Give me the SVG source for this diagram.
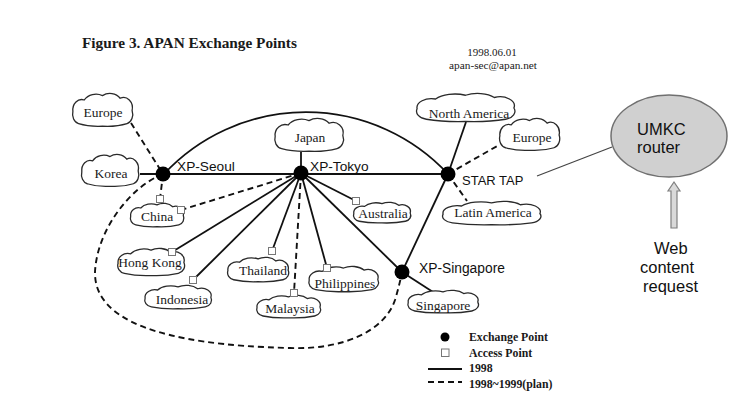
<svg xmlns="http://www.w3.org/2000/svg" xmlns:xlink="http://www.w3.org/1999/xlink" width="745" height="410" viewBox="0 0 745 410">
<style>
.serif{font-family:"Liberation Serif","Times New Roman",serif;fill:#1a1a1a}
.sans{font-family:"Liberation Sans",Arial,sans-serif;fill:#111}
.cl{font-family:"Liberation Serif","Times New Roman",serif;font-size:13.5px;fill:#1a1a1a;text-anchor:middle}
.solid{stroke:#111;stroke-width:1.8;fill:none}
.dash{stroke:#111;stroke-width:1.9;fill:none;stroke-dasharray:6 4}
.xp{fill:#000}
.ap{fill:#fff;stroke:#777;stroke-width:1}
.cloudp{fill:#fff;stroke:#2a2a2a;stroke-width:1.3}
</style>
<defs>
<symbol id="cloud" viewBox="0 0 100 40" preserveAspectRatio="none" overflow="visible">
<path class="cloudp" vector-effect="non-scaling-stroke" d="M 12 35 A 12 11 0 0 1 3 21 A 14 12 0 0 1 21 8 A 22 14 0 0 1 50 3 A 20 13 0 0 1 78 6 A 14 12 0 0 1 97 20 A 12 11 0 0 1 89 35 A 50 14 0 0 1 50 38 A 50 14 0 0 1 12 35 Z"/>
</symbol>
</defs>
<rect width="745" height="410" fill="#fff"/>

<g id="title">
<text class="serif" x="82" y="48" font-size="15.3" font-weight="bold">Figure 3. APAN Exchange Points</text>
<text class="serif" x="492" y="56" font-size="11" text-anchor="middle">1998.06.01</text>
<text class="serif" x="493" y="69" font-size="11.3" text-anchor="middle">apan-sec@apan.net</text>
</g>

<g id="connectors">
<path class="solid" d="M164 174 A194 194 0 0 1 448 174"/>
<line class="solid" x1="140" y1="174" x2="448" y2="174"/>
<line class="solid" x1="301" y1="152" x2="301" y2="173"/>
<line class="solid" x1="301" y1="173" x2="172" y2="252"/>
<line class="solid" x1="301" y1="173" x2="193" y2="280"/>
<line class="solid" x1="301" y1="173" x2="272" y2="251"/>
<line class="solid" x1="301" y1="173" x2="327" y2="268"/>
<line class="solid" x1="301" y1="173" x2="402" y2="272"/>
<line class="solid" x1="301" y1="173" x2="356" y2="201"/>
<line class="solid" x1="448" y1="174" x2="466" y2="122"/>
<line class="solid" x1="448" y1="174" x2="402" y2="272"/>
<line class="solid" x1="402" y1="272" x2="433" y2="292"/>
<line class="dash" x1="131" y1="123" x2="163" y2="174"/>
<line class="dash" x1="163" y1="174" x2="160" y2="199"/>
<line class="dash" x1="301" y1="173" x2="181" y2="210"/>
<line class="dash" x1="301" y1="173" x2="294" y2="293"/>
<line class="dash" x1="448" y1="174" x2="499" y2="145"/>
<line class="dash" x1="448" y1="174" x2="467" y2="201"/>
<path class="dash" d="M163 174 C130 187 97 230 95 272 C94 320 160 345 290 348 C345 350 385 330 395 300 C398 290 400 282 402 272"/>
<line x1="537" y1="176" x2="612" y2="147" stroke="#444" stroke-width="1.2"/>
</g>

<g id="cloud-europe-left"><use xlink:href="#cloud" href="#cloud" x="71" y="93" width="63" height="35"/><text class="cl" x="103" y="117">Europe</text></g>
<g id="cloud-korea"><use xlink:href="#cloud" href="#cloud" x="80" y="154" width="60" height="34"/><text class="cl" x="111" y="178">Korea</text></g>
<g id="cloud-japan"><use xlink:href="#cloud" href="#cloud" x="273" y="118" width="72" height="35"/><text class="cl" x="310" y="142">Japan</text></g>
<g id="cloud-north-america"><use xlink:href="#cloud" href="#cloud" x="414" y="93" width="103" height="30"/><text class="cl" x="469" y="118">North America</text></g>
<g id="cloud-europe-right"><use xlink:href="#cloud" href="#cloud" x="498" y="118" width="63" height="34"/><text class="cl" x="532" y="142">Europe</text></g>
<g id="cloud-latin-america"><use xlink:href="#cloud" href="#cloud" x="440" y="201" width="103" height="25"/><text class="cl" x="493" y="217">Latin America</text></g>
<g id="cloud-china"><use xlink:href="#cloud" href="#cloud" x="129" y="203" width="56" height="25"/><text class="cl" x="157" y="221">China</text></g>
<g id="cloud-australia"><use xlink:href="#cloud" href="#cloud" x="352" y="202" width="60" height="22"/><text class="cl" x="383" y="218">Australia</text></g>
<g id="cloud-hong-kong"><use xlink:href="#cloud" href="#cloud" x="116" y="248" width="70" height="29"/><text class="cl" x="150" y="267">Hong Kong</text></g>
<g id="cloud-thailand"><use xlink:href="#cloud" href="#cloud" x="226" y="257" width="64" height="26"/><text class="cl" x="263" y="275">Thailand</text></g>
<g id="cloud-indonesia"><use xlink:href="#cloud" href="#cloud" x="143" y="285" width="70" height="25"/><text class="cl" x="182" y="304">Indonesia</text></g>
<g id="cloud-malaysia"><use xlink:href="#cloud" href="#cloud" x="255" y="295" width="67" height="24"/><text class="cl" x="290" y="313">Malaysia</text></g>
<g id="cloud-philippines"><use xlink:href="#cloud" href="#cloud" x="307" y="266" width="73" height="27"/><text class="cl" x="345" y="288">Philippines</text></g>
<g id="cloud-singapore"><use xlink:href="#cloud" href="#cloud" x="406" y="290" width="74" height="24"/><text class="cl" x="443" y="310">Singapore</text></g>

<g id="access-points">
<rect class="ap" x="156.5" y="195.5" width="7" height="7"/>
<rect class="ap" x="177.5" y="206.5" width="7" height="7"/>
<rect class="ap" x="168.5" y="248.5" width="7" height="7"/>
<rect class="ap" x="189.5" y="276.5" width="7" height="7"/>
<rect class="ap" x="268.5" y="247.5" width="7" height="7"/>
<rect class="ap" x="290.5" y="289.5" width="7" height="7"/>
<rect class="ap" x="323.5" y="264.5" width="7" height="7"/>
<rect class="ap" x="352.5" y="197.5" width="7" height="7"/>
</g>

<g id="xp-seoul"><circle class="xp" cx="163" cy="174" r="7.5"/><text class="sans" x="177" y="171" font-size="13.7">XP-Seoul</text></g>
<g id="xp-tokyo"><circle class="xp" cx="301" cy="173" r="7.5"/><text class="sans" x="310" y="171" font-size="13.7">XP-Tokyo</text></g>
<g id="star-tap"><circle class="xp" cx="448" cy="174" r="7.5"/><text class="sans" x="462" y="185" font-size="13">STAR TAP</text></g>
<g id="xp-singapore"><circle class="xp" cx="402" cy="272" r="7.5"/><text class="sans" x="419" y="273" font-size="13.8">XP-Singapore</text></g>

<g id="legend">
<circle class="xp" cx="445" cy="337" r="4.5"/>
<text class="serif" x="469" y="341" font-size="11.8" font-weight="bold">Exchange Point</text>
<rect class="ap" x="441.5" y="349" width="7.5" height="7.5"/>
<text class="serif" x="469" y="357" font-size="11.8" font-weight="bold">Access Point</text>
<line class="solid" x1="428" y1="369" x2="462" y2="369"/>
<text class="serif" x="469" y="372" font-size="11.8" font-weight="bold">1998</text>
<line class="dash" x1="428" y1="382" x2="462" y2="382" stroke-dasharray="5 3"/>
<text class="serif" x="469" y="388" font-size="11.8" font-weight="bold">1998~1999(plan)</text>
</g>

<g id="umkc-router">
<ellipse cx="669" cy="136" rx="58" ry="41" fill="#d0d0d0" stroke="#707070" stroke-width="1.5"/>
<text class="sans" x="637" y="135" font-size="16.5">UMKC</text>
<text class="sans" x="637" y="153" font-size="16.5">router</text>
</g>

<g id="web-request">
<polygon points="674,182 680,191 677,191 677,228 671,228 671,191 668,191" fill="#d9d9d9" stroke="#7f7f7f" stroke-width="1.2"/>
<text class="sans" x="654" y="254" font-size="16.5">Web</text>
<text class="sans" x="640" y="273" font-size="16.5">content</text>
<text class="sans" x="643" y="292" font-size="16.5">request</text>
</g>
</svg>
